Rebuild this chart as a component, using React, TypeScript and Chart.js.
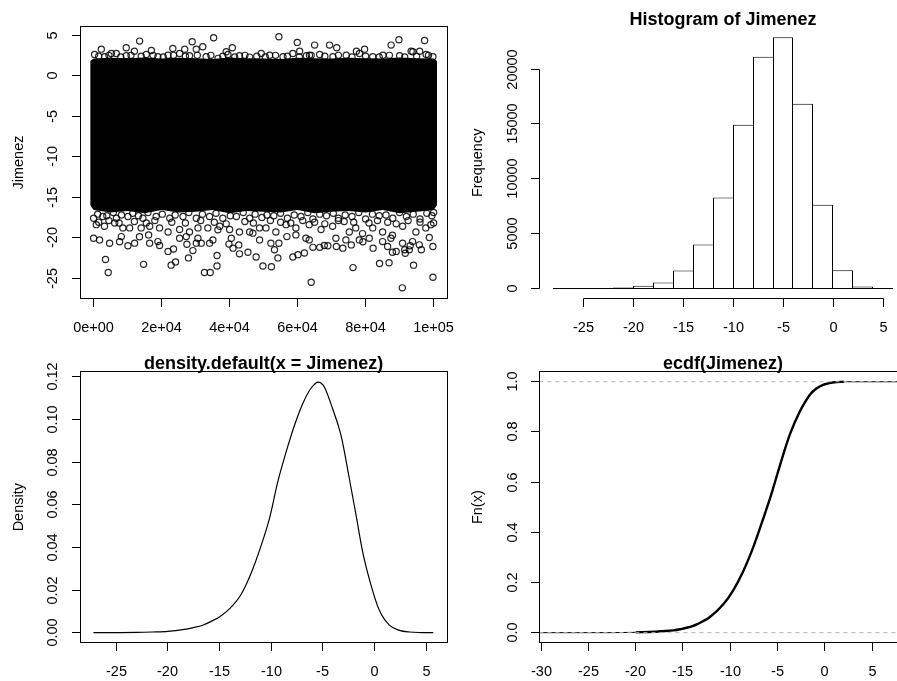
import React, { useEffect, useRef } from 'react';
import { Chart, registerables } from 'chart.js';
Chart.register(...registerables);

const W = 897;
const H = 681;
const CW = 930;
const INK = '#000';
const LABEL_FONT = '14.5px "Liberation Sans", Arial, Helvetica, sans-serif';
const TITLE_FONT = 'bold 18px "Liberation Sans", Arial, Helvetica, sans-serif';
const TICK_LEN = 8.5;

// ---------- Panel 1: index plot of Jimenez ----------
const scatterXTicks = [0, 20000, 40000, 60000, 80000, 100000];
const scatterXLabels = ['0e+00', '2e+04', '4e+04', '6e+04', '8e+04', '1e+05'];
const scatterYTicks = [-25, -20, -15, -10, -5, 0, 5];
const scatterYLabels = ['-25', '-20', '-15', '-10', '-5', '0', '5'];

// dense band of overlapping points (envelope)
const bandX = [-1000, 0, 5000, 10000, 15000, 20000, 25000, 30000, 35000, 40000, 45000, 50000, 55000, 60000, 65000, 70000, 75000, 80000, 85000, 90000, 95000, 100000, 101000];
const bandTop = [1.8, 2.1, 2.2, 2.15, 2.25, 2.1, 2.2, 2.15, 2.05, 2.25, 2.15, 2.1, 2.05, 2.2, 2.15, 2.1, 2.2, 2.15, 2.1, 2.25, 2.15, 2.1, 1.8];
const bandBottom = [-16.0, -16.6, -16.9, -16.7, -17.0, -16.6, -16.9, -16.8, -16.6, -17.0, -16.7, -16.8, -16.9, -16.6, -17.0, -16.8, -16.7, -16.9, -16.6, -17.0, -16.8, -16.6, -16.0];

const topOutliers: [number, number][] = [
  [13529, 4.26], [29000, 4.18], [35300, 4.67], [54500, 4.8], [59900, 4.1], [65000, 3.77], [69400, 3.77],
  [71500, 3.44], [89800, 4.42], [87500, 3.77], [97350, 4.34], [9600, 3.44], [12000, 3.0], [23300, 3.36],
  [26800, 3.27], [30200, 3.27], [32100, 3.56], [17000, 3.1], [40800, 3.44], [39000, 2.95], [49300, 2.74],
  [60600, 3.0], [63500, 2.53], [77300, 3.0], [79700, 3.27], [93400, 3.0], [95900, 3.0], [2260, 3.27], [5200, 2.74],
  [294, 2.62], [3235, 2.33], [6670, 2.74], [9610, 2.45], [15500, 2.62], [18900, 2.33], [21900, 2.53],
  [25300, 2.74], [28200, 2.45], [33100, 2.33], [36600, 2.13], [39500, 2.62], [42900, 2.45], [45900, 2.29],
  [51800, 2.53], [55700, 2.33], [58600, 2.74], [62600, 2.45], [66500, 2.62], [70400, 2.33], [74300, 2.53],
  [78200, 2.74], [82100, 2.33], [85100, 2.53], [90000, 2.45], [93900, 2.94], [97800, 2.62], [99800, 2.33],
];

const topEdgePoints: [number, number][] = [
  [1500, 2.4], [4500, 2.5], [8000, 2.3], [11000, 2.5], [14000, 2.4], [17500, 2.5], [20500, 2.3], [23500, 2.5],
  [27000, 2.4], [30500, 2.5], [34500, 2.5], [38000, 2.4], [41500, 2.3], [44500, 2.5], [48000, 2.4], [50500, 2.3],
  [53500, 2.5], [57000, 2.4], [60500, 2.3], [64000, 2.5], [68000, 2.4], [72000, 2.5], [76000, 2.3], [80000, 2.4],
  [84000, 2.3], [87000, 2.5], [91500, 2.3], [95000, 2.4], [98500, 2.5],
];

const bottomOutliers: [number, number][] = [
  [0, -20.07], [3500, -22.7], [4300, -24.3], [4700, -20.7], [7650, -20.5], [10100, -21.0], [14700, -23.3],
  [13500, -19.9], [21900, -21.7], [22800, -23.4], [24100, -23.0], [23500, -21.4], [27900, -22.5], [29200, -21.6],
  [32600, -24.3], [34300, -24.3], [36300, -23.5], [36300, -22.2], [39800, -20.8], [41000, -21.3], [42700, -20.9],
  [42900, -22.0], [45400, -21.8], [47800, -22.4], [49800, -23.5], [52300, -23.6], [53200, -21.5], [54200, -22.5],
  [54500, -20.7], [58600, -22.4], [60100, -22.1], [62000, -21.9], [64000, -25.5], [64500, -21.2], [66500, -21.2],
  [68900, -21.0], [71400, -21.1], [73300, -21.3], [76300, -23.7], [75800, -20.9], [79200, -20.5], [82200, -21.3],
  [84100, -23.2], [86900, -23.1], [87900, -21.8], [89000, -21.7], [90800, -26.2], [91500, -21.5], [93100, -21.0],
  [94100, -23.4], [96400, -21.5], [99800, -24.9], [99800, -21.1],
  [12060, -20.68], [8150, -19.87], [16180, -19.66], [16470, -20.68], [18910, -20.49], [19410, -20.98], [1765, -20.28],
  [40500, -20.07], [27440, -20.81], [30200, -20.68], [31670, -20.68], [34120, -20.68], [35090, -20.28], [25290, -20.07],
  [27260, -19.87], [30680, -20.07], [36560, -19.04], [46850, -19.45], [48820, -20.28], [52140, -20.68], [67850, -20.98],
  [91670, -21.92], [92850, -21.51], [56850, -19.87], [59500, -19.66], [62440, -20.07], [63440, -20.28], [71260, -20.07],
  [74200, -20.28], [78140, -20.28], [81080, -20.07], [85000, -20.49], [87440, -20.07], [86470, -21.1], [90880, -20.68],
  [93820, -20.49], [95790, -20.89], [98730, -19.99],
  [800, -18.4], [3200, -18.6], [6200, -18.2], [8600, -18.8], [10600, -18.8], [14000, -18.8], [16500, -18.6],
  [19400, -18.8], [21900, -19.3], [25300, -19.0], [28200, -19.3], [30700, -18.8], [33600, -18.8], [37100, -18.6],
  [40000, -19.0], [42900, -19.3], [45900, -19.3], [48800, -18.8], [50700, -18.8], [53600, -19.3], [56600, -18.4],
  [59500, -18.8], [63400, -18.4], [66900, -19.0], [70300, -18.6], [73700, -18.0], [75200, -19.3], [77100, -18.8],
  [79100, -19.5], [82100, -18.8], [85000, -19.3], [87900, -19.7], [90900, -18.6], [94800, -19.3], [97700, -18.8], [99200, -18.4],
  [0, -17.6], [2700, -17.4], [6700, -17.6], [10100, -17.4], [14500, -17.6], [18400, -17.4], [22400, -17.6],
  [26300, -17.4], [30200, -17.6], [34100, -17.4], [38000, -17.6], [42000, -17.4], [45900, -17.6], [49500, -17.5],
  [53000, -17.3], [57000, -17.6], [61000, -17.4], [64500, -17.7], [68500, -17.3], [72000, -17.6], [76000, -17.4],
  [80000, -17.7], [84000, -17.3], [88000, -17.6], [92000, -17.4], [96000, -17.7], [99500, -17.3],
];

const bottomEdgePoints: [number, number][] = [
  [1200, -17.1], [3900, -17.3], [5800, -16.9], [8200, -17.2], [11500, -17.0], [13200, -17.3], [16000, -16.9],
  [20200, -17.1], [24000, -17.2], [28000, -16.9], [32000, -17.1], [36000, -17.0], [40200, -17.3], [44000, -16.9],
  [47500, -17.1], [51000, -17.2], [55000, -17.0], [59000, -17.2], [63000, -16.9], [66500, -17.1], [70500, -17.0],
  [74000, -17.2], [78000, -16.9], [82000, -17.1], [86000, -17.2], [90000, -16.9], [94000, -17.1], [98000, -17.0], [100000, -16.9],
  [1500, -18.1], [4500, -17.9], [7500, -18.2], [12000, -18.0], [15500, -18.2], [18000, -17.9], [23000, -18.1],
  [27000, -18.2], [31500, -17.9], [35500, -18.1], [39000, -18.3], [44500, -18.0], [47000, -18.2], [52000, -17.9],
  [55000, -18.1], [58000, -18.2], [61500, -17.9], [65000, -18.1], [68000, -18.3], [72000, -17.9], [76500, -18.1],
  [81000, -18.2], [83500, -17.9], [86500, -18.1], [89000, -18.3], [92500, -17.9], [96000, -18.1], [100000, -18.2],
];

// ---------- Panel 2: histogram ----------
const histBreaks = [-28, -26, -24, -22, -20, -18, -16, -14, -12, -10, -8, -6, -4, -2, 0, 2, 4, 6];
const histCounts = [2, 10, 25, 90, 243, 547, 1641, 4012, 8298, 14924, 21125, 22918, 16840, 7630, 1672, 190, 8];
const histXTicks = [-25, -20, -15, -10, -5, 0, 5];
const histXLabels = ['-25', '-20', '-15', '-10', '-5', '0', '5'];
const histYTicks = [0, 5000, 10000, 15000, 20000];
const histYLabels = ['0', '5000', '10000', '15000', '20000'];

// ---------- Panel 3: density ----------
const densityX = [-27.2, -25, -23, -21.5, -20, -18.55, -17.5, -16.62, -15.8, -15.0, -14.3, -13.71, -13, -12.42, -11.8, -11.13, -10.16, -9.36, -8.55, -7.74, -6.94, -6.29, -5.85, -5.49, -5.15, -4.84, -4.04, -3.23, -2.42, -1.77, -1.13, -0.32, 0.48, 1.45, 2.42, 3.4, 4.5, 5.7];
const densityY = [0, 0.00003, 0.0001, 0.0003, 0.0006, 0.0014, 0.0024, 0.0035, 0.0053, 0.0074, 0.0100, 0.0128, 0.0172, 0.0225, 0.0295, 0.0385, 0.0535, 0.0706, 0.0847, 0.0972, 0.1074, 0.1136, 0.1162, 0.1175, 0.1170, 0.1152, 0.105, 0.0925, 0.0722, 0.055, 0.0378, 0.0222, 0.0105, 0.0035, 0.0011, 0.0003, 0.00005, 0];
const densXTicks = [-25, -20, -15, -10, -5, 0, 5];
const densXLabels = ['-25', '-20', '-15', '-10', '-5', '0', '5'];
const densYTicks = [0, 0.02, 0.04, 0.06, 0.08, 0.10, 0.12];
const densYLabels = ['0.00', '0.02', '0.04', '0.06', '0.08', '0.10', '0.12'];

// ---------- Panel 4: ecdf ----------
const ecdfX = [-30.18, -26.25, -22.7, -20, -18, -17.4, -16, -15.3, -14, -13.55, -12.15, -10.74, -9.69, -8.63, -7.57, -6.52, -5.64, -4.75, -3.7, -2.6, -2, -1.5, -1, -0.5, 0, 1, 2, 4.8, 8.64];
const ecdfY = [0, 0, 0.0001, 0.0013, 0.0037, 0.0055, 0.0092, 0.0135, 0.0256, 0.033, 0.0625, 0.113, 0.169, 0.245, 0.341, 0.454, 0.554, 0.667, 0.79, 0.885, 0.925, 0.952, 0.97, 0.982, 0.99, 0.998, 1, 1, 1];
const ecdfRefLines = [0, 1];
const ecdfXTicks = [-30, -25, -20, -15, -10, -5, 0, 5];
const ecdfXLabels = ['-30', '-25', '-20', '-15', '-10', '-5', '0', '5'];
const ecdfYTicks = [0, 0.2, 0.4, 0.6, 0.8, 1.0];
const ecdfYLabels = ['0.0', '0.2', '0.4', '0.6', '0.8', '1.0'];

type Area = { left: number; top: number; right: number; bottom: number };
type PanelSpec = {
  xTicks: number[]; xLabels: string[]; yTicks: number[]; yLabels: string[];
  box: boolean; title?: string; ylab: string;
};

function pad(a: Area) {
  return { left: a.left, top: a.top, right: CW - a.right, bottom: H - a.bottom };
}

function rPanel(spec: PanelSpec) {
  return {
    id: 'rPanel',
    afterDraw(chart: any) {
      const { ctx, chartArea: a } = chart;
      const xs = chart.scales.x;
      const ys = chart.scales.y;
      const snap = (v: number) => Math.round(v - 0.5) + 0.5;
      ctx.save();
      ctx.strokeStyle = INK;
      ctx.fillStyle = INK;
      ctx.lineWidth = 1;
      ctx.setLineDash([]);
      const left = snap(a.left);
      const right = snap(a.right);
      const top = snap(a.top);
      const bottom = snap(a.bottom);
      if (spec.box) ctx.strokeRect(left, top, right - left, bottom - top);
      const xp = spec.xTicks.map((v) => snap(xs.getPixelForValue(v)));
      const yp = spec.yTicks.map((v) => snap(ys.getPixelForValue(v)));
      ctx.beginPath();
      ctx.moveTo(xp[0], bottom);
      ctx.lineTo(xp[xp.length - 1], bottom);
      xp.forEach((p) => { ctx.moveTo(p, bottom); ctx.lineTo(p, bottom + TICK_LEN); });
      ctx.moveTo(left, yp[0]);
      ctx.lineTo(left, yp[yp.length - 1]);
      yp.forEach((p) => { ctx.moveTo(left, p); ctx.lineTo(left - TICK_LEN, p); });
      ctx.stroke();
      ctx.font = LABEL_FONT;
      ctx.textAlign = 'center';
      ctx.textBaseline = 'alphabetic';
      spec.xLabels.forEach((t, i) => ctx.fillText(t, xp[i], a.bottom + 33.3));
      spec.yLabels.forEach((t, i) => {
        ctx.save();
        ctx.translate(a.left - 22.6, yp[i]);
        ctx.rotate(-Math.PI / 2);
        ctx.fillText(t, 0, 0);
        ctx.restore();
      });
      ctx.save();
      ctx.translate(a.left - 57.5, (a.top + a.bottom) / 2);
      ctx.rotate(-Math.PI / 2);
      ctx.fillText(spec.ylab, 0, 0);
      ctx.restore();
      if (spec.title) {
        ctx.font = TITLE_FONT;
        ctx.fillText(spec.title, (a.left + a.right) / 2, a.top - 2.3);
      }
      ctx.restore();
    },
  };
}

function baseOptions(area: Area, x: [number, number], y: [number, number]) {
  return {
    responsive: false,
    maintainAspectRatio: false,
    animation: false as const,
    devicePixelRatio: 1,
    events: [] as any[],
    layout: { padding: pad(area) },
    plugins: { legend: { display: false }, title: { display: false }, tooltip: { enabled: false } },
    scales: {
      x: { type: 'linear' as const, display: false, min: x[0], max: x[1], offset: false },
      y: { type: 'linear' as const, display: false, min: y[0], max: y[1] },
    },
  };
}

const areaScatter: Area = { left: 80, top: 26.7, right: 447.2, bottom: 298.3 };
const areaHist: Area = { left: 539.4, top: 27.1, right: 906.6, bottom: 298.55 };
const areaDens: Area = { left: 80, top: 371.7, right: 447.2, bottom: 642.7 };
const areaEcdf: Area = { left: 539.4, top: 371.7, right: 906.6, bottom: 642.7 };

export default function App() {
  const c1 = useRef<HTMLCanvasElement>(null);
  const c2 = useRef<HTMLCanvasElement>(null);
  const c3 = useRef<HTMLCanvasElement>(null);
  const c4 = useRef<HTMLCanvasElement>(null);

  useEffect(() => {
    const charts: Chart[] = [];
    const toPts = (xs: number[], ys: number[]) => xs.map((x, i) => ({ x, y: ys[i] }));

    // Panel 1
    const o1: any = baseOptions(areaScatter, [-4000, 104000], [-27.49, 6.04]);
    const pts = [...topOutliers, ...topEdgePoints, ...bottomOutliers, ...bottomEdgePoints].map(([x, y]) => ({ x, y }));
    charts.push(new Chart(c1.current!, {
      type: 'line',
      data: {
        datasets: [
          {
            data: pts, showLine: false, pointRadius: 3.1, pointBorderWidth: 1.2, borderWidth: 1.2,
            pointBorderColor: 'rgba(0,0,0,0.85)', borderColor: 'rgba(0,0,0,0.85)',
            pointBackgroundColor: 'rgba(0,0,0,0)', backgroundColor: 'rgba(0,0,0,0)',
          },
          {
            data: toPts(bandX, bandTop), fill: '+1', backgroundColor: '#000', borderWidth: 0,
            pointRadius: 0, tension: 0,
          },
          {
            data: toPts(bandX, bandBottom), fill: false, borderWidth: 0, pointRadius: 0, tension: 0,
          },
        ] as any,
      },
      options: o1,
      plugins: [rPanel({ xTicks: scatterXTicks, xLabels: scatterXLabels, yTicks: scatterYTicks, yLabels: scatterYLabels, box: true, ylab: 'Jimenez' })],
    }));

    // Panel 2
    const o2: any = baseOptions(areaHist, [-29.36, 7.36], [-916.72, 23834.72]);
    o2.scales.x.afterBuildTicks = (axis: any) => { axis.ticks = histBreaks.map((v) => ({ value: v })); };
    const centers = histCounts.map((_, i) => (histBreaks[i] + histBreaks[i + 1]) / 2);
    charts.push(new Chart(c2.current!, {
      type: 'bar',
      data: {
        datasets: [
          {
            type: 'line', data: [{ x: histBreaks[0], y: 0 }, { x: histBreaks[histBreaks.length - 1], y: 0 }],
            borderColor: INK, borderWidth: 1, pointRadius: 0, fill: false,
          },
          {
            type: 'bar', data: centers.map((x, i) => ({ x, y: histCounts[i] })),
            backgroundColor: '#fff', borderColor: INK, borderSkipped: false, inflateAmount: 0,
            barPercentage: 1, categoryPercentage: 1,
            borderWidth: (ctx: any) => {
              const i = ctx.dataIndex;
              const h = histCounts;
              return {
                top: 1, bottom: 0,
                left: i === 0 || h[i] > h[i - 1] ? 1 : 0,
                right: i === h.length - 1 || h[i] >= h[i + 1] ? 1 : 0,
              };
            },
          },
        ] as any,
      },
      options: o2,
      plugins: [rPanel({ xTicks: histXTicks, xLabels: histXLabels, yTicks: histYTicks, yLabels: histYLabels, box: false, title: 'Histogram of Jimenez', ylab: 'Frequency' })],
    }));

    // Panel 3
    const o3: any = baseOptions(areaDens, [-28.5, 7.05], [-0.00471, 0.12241]);
    charts.push(new Chart(c3.current!, {
      type: 'line',
      data: {
        datasets: [
          {
            data: toPts(densityX, densityY), borderColor: INK, borderWidth: 1.2, pointRadius: 0,
            cubicInterpolationMode: 'monotone', fill: false,
          },
        ] as any,
      },
      options: o3,
      plugins: [rPanel({ xTicks: densXTicks, xLabels: densXLabels, yTicks: densYTicks, yLabels: densYLabels, box: true, title: 'density.default(x = Jimenez)', ylab: 'Density' })],
    }));

    // Panel 4
    const xr: [number, number] = [-30.18, 8.64];
    const o4: any = baseOptions(areaEcdf, xr, [-0.04, 1.04]);
    const thick = ecdfX.map((x, i) => ({ x, y: ecdfY[i] })).filter((p) => p.x >= -20 && p.x <= 2);
    charts.push(new Chart(c4.current!, {
      type: 'line',
      data: {
        datasets: [
          ...ecdfRefLines.map((v) => ({
            data: [{ x: xr[0], y: v }, { x: xr[1], y: v }], borderColor: '#b3b3b3', borderWidth: 1,
            borderDash: [4, 4], pointRadius: 0, fill: false,
          })),
          {
            data: thick, borderColor: INK, borderWidth: 2.4, pointRadius: 0,
            cubicInterpolationMode: 'monotone', fill: false,
          },
          {
            data: toPts(ecdfX, ecdfY), borderColor: INK, borderWidth: 1, pointRadius: 0,
            cubicInterpolationMode: 'monotone', fill: false,
          },
        ] as any,
      },
      options: o4,
      plugins: [rPanel({ xTicks: ecdfXTicks, xLabels: ecdfXLabels, yTicks: ecdfYTicks, yLabels: ecdfYLabels, box: true, title: 'ecdf(Jimenez)', ylab: 'Fn(x)' })],
    }));

    return () => charts.forEach((c) => c.destroy());
  }, []);

  const cs: React.CSSProperties = { position: 'absolute', left: 0, top: 0, width: CW, height: H };
  return (
    <div style={{ position: 'absolute', left: 0, top: 0, width: W, height: H, overflow: 'hidden', background: '#fff' }}>
      <canvas ref={c1} width={CW} height={H} style={cs} />
      <canvas ref={c2} width={CW} height={H} style={cs} />
      <canvas ref={c3} width={CW} height={H} style={cs} />
      <canvas ref={c4} width={CW} height={H} style={cs} />
    </div>
  );
}
